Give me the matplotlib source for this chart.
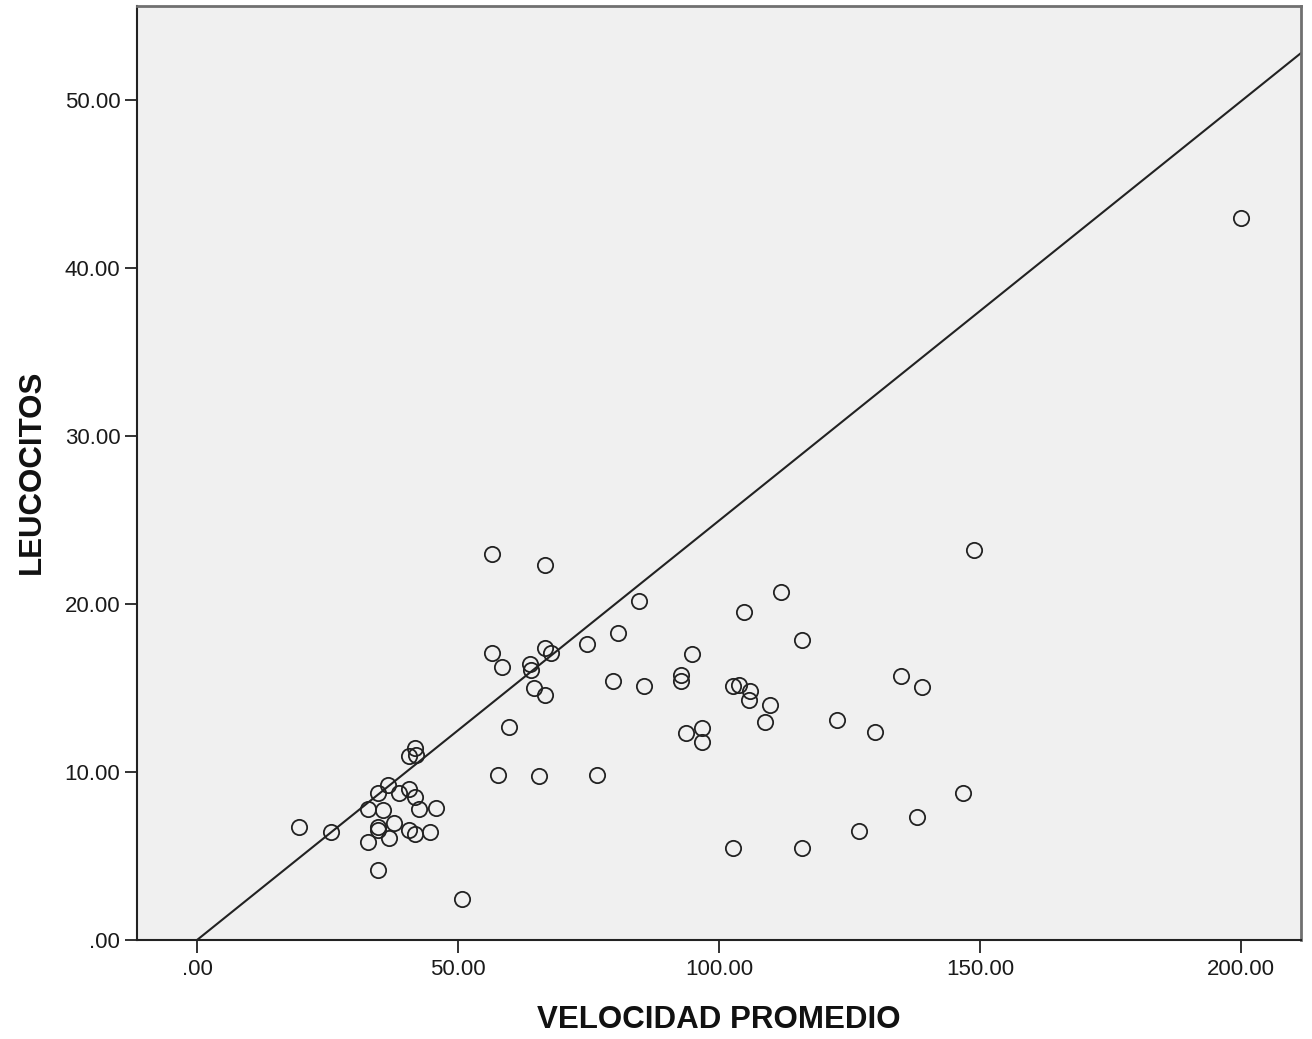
import matplotlib
matplotlib.use("Agg")
import matplotlib.pyplot as plt
from matplotlib.ticker import FuncFormatter, FixedLocator

plt.rcParams['font.family'] = ['Liberation Sans', 'DejaVu Sans']

velocidad = [200.0, 148.9, 56.6, 66.7, 111.9, 84.7, 104.8, 80.7, 115.9, 74.8,
             66.7, 67.9, 56.6, 94.8, 58.5, 63.7, 63.9, 92.7, 92.7, 79.7,
             134.8, 138.8, 85.7, 102.7, 103.8, 105.9, 105.7, 64.6, 66.7, 109.8,
             108.8, 122.6, 129.8, 59.7, 96.7, 93.7, 96.7, 41.7, 40.7, 41.9,
             57.6, 65.6, 76.7, 36.5, 40.7, 34.6, 38.6, 41.7, 146.8, 32.7,
             35.6, 42.6, 45.7, 137.9, 19.5, 25.6, 37.7, 34.6, 34.6, 40.7,
             41.7, 44.7, 36.7, 32.7, 126.8, 102.7, 115.9, 34.6, 50.7]
leucocitos = [43.0, 23.2, 23.0, 22.3, 20.7, 20.2, 19.5, 18.3, 17.85, 17.6,
              17.4, 17.1, 17.1, 17.0, 16.25, 16.45, 16.1, 15.8, 15.4, 15.4,
              15.7, 15.05, 15.1, 15.1, 15.2, 14.8, 14.3, 15.0, 14.6, 14.0,
              12.95, 13.1, 12.4, 12.7, 12.6, 12.3, 11.8, 11.4, 10.95, 11.0,
              9.8, 9.75, 9.8, 9.2, 9.0, 8.75, 8.75, 8.5, 8.75, 7.8,
              7.75, 7.8, 7.85, 7.3, 6.7, 6.4, 6.95, 6.75, 6.55, 6.55,
              6.3, 6.4, 6.1, 5.85, 6.5, 5.5, 5.5, 4.15, 2.45]

line_x = [0.0, 211.5]
line_y = [0.0, 52.8]

x_ticks = [0, 50, 100, 150, 200]
y_ticks = [0, 10, 20, 30, 40, 50]

fig = plt.figure(figsize=(13.12, 10.39), dpi=100)
ax = fig.add_axes([137/1312, 1 - 940/1039, (1301-137)/1312, (940-6)/1039])
ax.set_facecolor('#F0F0F0')

ax.plot(line_x, line_y, color='#222222', lw=1.5, zorder=2)
ax.plot(velocidad, leucocitos, linestyle='none', marker='o', markersize=11,
        markerfacecolor='none', markeredgecolor='#222222', markeredgewidth=1.3, zorder=3)

ax.set_xlim(-11.5, 211.5)
ax.set_ylim(0, 55.6)

def fmt(v, pos):
    s = f"{v:.2f}"
    if s.startswith("0"):
        s = s[1:]
    return s

ax.xaxis.set_major_locator(FixedLocator(x_ticks))
ax.yaxis.set_major_locator(FixedLocator(y_ticks))
ax.xaxis.set_major_formatter(FuncFormatter(fmt))
ax.yaxis.set_major_formatter(FuncFormatter(fmt))
ax.tick_params(axis='both', direction='out', length=9, width=1.3, labelsize=16,
               colors='#222222', labelcolor='#1a1a1a')
ax.tick_params(axis='x', pad=5)
ax.tick_params(axis='y', pad=3)

for s in ['left', 'bottom']:
    ax.spines[s].set_color('#222222')
    ax.spines[s].set_linewidth(1.5)
for s in ['top', 'right']:
    ax.spines[s].set_color('#707070')
    ax.spines[s].set_linewidth(2)

fig.text(719/1312, 1 - 1020/1039, 'VELOCIDAD PROMEDIO', ha='center', va='center',
         fontsize=22.5, fontweight='bold', color='#111111')
fig.text(32/1312, 1 - 472/1039, 'LEUCOCITOS', ha='center', va='center',
         rotation=90, fontsize=22.5, fontweight='bold', color='#111111')

fig.savefig('out.png', dpi=100, facecolor='white')
